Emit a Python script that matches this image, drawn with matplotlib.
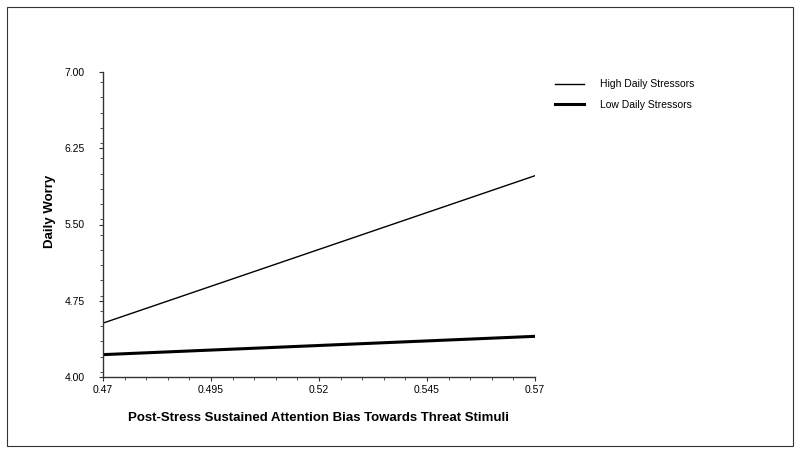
import matplotlib
matplotlib.use("Agg")
import matplotlib.pyplot as plt
from matplotlib.patches import Rectangle
from matplotlib.ticker import MultipleLocator

plt.rcParams['font.family'] = ['Liberation Sans', 'DejaVu Sans']

x_vals = [0.47, 0.57]
high_vals = [4.53, 5.98]
low_vals = [4.22, 4.40]
x_ticks = [0.47, 0.495, 0.52, 0.545, 0.57]
x_tick_labels = ['0.47', '0.495', '0.52', '0.545', '0.57']
y_ticks = [4.00, 4.75, 5.50, 6.25, 7.00]
y_tick_labels = ['4.00', '4.75', '5.50', '6.25', '7.00']

fig = plt.figure(figsize=(8.0, 4.53), dpi=100)
fig.patches.append(Rectangle((7/800, 7/453), 786/800, 439/453, transform=fig.transFigure,
                             fill=False, edgecolor='#333333', linewidth=0.8))
ax = fig.add_axes([103/800, 1-377/453, (535-103)/800, (377-72)/453])

ax.plot(x_vals, high_vals, color='black', linewidth=1.0, label='High Daily Stressors')
ax.plot(x_vals, low_vals, color='black', linewidth=2.2, label='Low Daily Stressors')

ax.set_xlim(0.47, 0.57)
ax.set_ylim(4.0, 7.0)
ax.set_xticks(x_ticks)
ax.set_xticklabels(x_tick_labels)
ax.set_yticks(y_ticks)
ax.set_yticklabels(y_tick_labels)
ax.xaxis.set_minor_locator(MultipleLocator(0.005))
ax.yaxis.set_minor_locator(MultipleLocator(0.15))
ax.tick_params(axis='both', which='major', length=3, width=0.8, labelsize=7.5, color='#333333')
ax.tick_params(axis='y', which='major', pad=10)
ax.tick_params(axis='x', which='major', pad=3)
ax.tick_params(axis='both', which='minor', length=2, width=0.6, color='#333333')
for s in ['top', 'right']:
    ax.spines[s].set_visible(False)
for s in ['left', 'bottom']:
    ax.spines[s].set_linewidth(1.0)
    ax.spines[s].set_color('#333333')

ax.set_xlabel('Post-Stress Sustained Attention Bias Towards Threat Stimuli', fontsize=9.5, fontweight='bold', labelpad=12)
ax.set_ylabel('Daily Worry', fontsize=9.5, fontweight='bold', labelpad=6)
ax.yaxis.set_label_coords(-0.108, 0.544)

ax.legend(loc='upper left', bbox_to_anchor=(1.025, 1.007), frameon=False, fontsize=7.5,
          handlelength=2.8, handletextpad=1.5, labelspacing=1.0, bbox_transform=ax.transAxes)

fig.savefig('out.png', dpi=100)
